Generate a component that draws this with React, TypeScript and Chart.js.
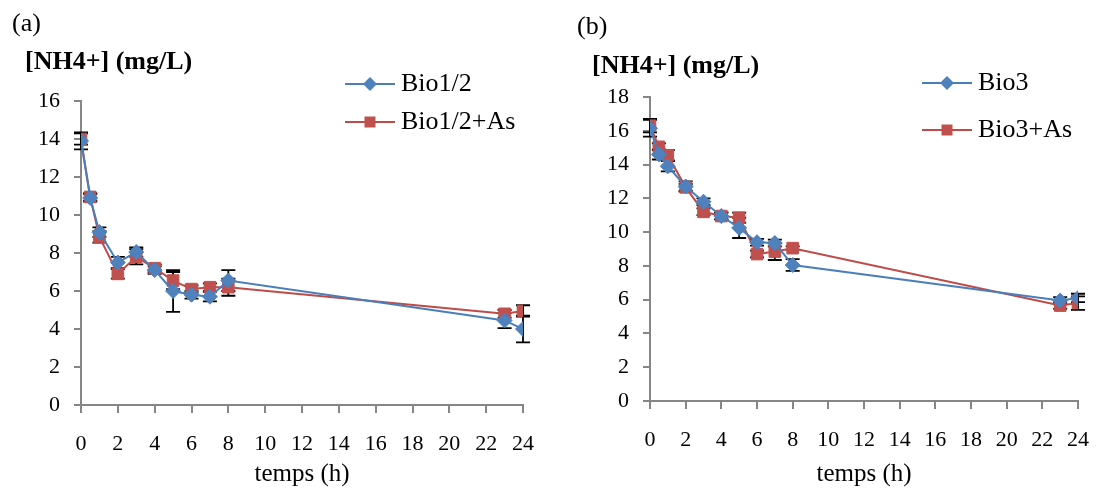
import React, { useEffect, useRef } from "react";
import { Chart, registerables } from "chart.js";

Chart.register(...registerables);

// ---------- DATA ----------
const hoursA = [0, 0.5, 1, 2, 3, 4, 5, 6, 7, 8, 23, 24];
const bioA = [13.9, 10.9, 9.1, 7.5, 8.05, 7.1, 6.0, 5.8, 5.7, 6.55, 4.45, 4.0];
const bioAErr = [0.45, 0.2, 0.25, 0.3, 0.25, 0.2, 1.1, 0.2, 0.25, 0.55, 0.4, 0.7];
const bioAsA = [14.0, 10.95, 8.85, 6.9, 7.8, 7.2, 6.55, 6.1, 6.2, 6.2, 4.8, 4.95];
const bioAsAErr = [0.3, 0.2, 0.3, 0.25, 0.4, 0.2, 0.45, 0.2, 0.2, 0.45, 0.2, 0.3];

const hoursB = [0, 0.5, 1, 2, 3, 4, 5, 6, 7, 8, 23, 24];
const bioB = [16.15, 14.6, 13.9, 12.7, 11.8, 10.95, 10.25, 9.4, 9.35, 8.05, 5.95, 6.1];
const bioBErr = [0.5, 0.3, 0.3, 0.3, 0.2, 0.2, 0.6, 0.2, 0.2, 0.35, 0.2, 0.25];
const bioAsB = [16.3, 15.05, 14.55, 12.65, 11.2, 10.95, 10.85, 8.7, 8.85, 9.05, 5.65, 5.8];
const bioAsBErr = [0.4, 0.2, 0.3, 0.2, 0.2, 0.2, 0.3, 0.2, 0.5, 0.1, 0.2, 0.4];

const xTickStep = 2;
const xMax = 24;
const yMaxA = 16;
const yMaxB = 18;
const yTickStep = 2;

const labelA = "(a)";
const labelB = "(b)";
const yTitle = "[NH4+] (mg/L)";
const xTitle = "temps (h)";
const seriesA = ["Bio1/2", "Bio1/2+As"];
const seriesB = ["Bio3", "Bio3+As"];

// ---------- STYLE ----------
const BLUE = "#4F81BD";
const BLUE_LINE = "#4A7EBB";
const RED = "#C0504D";
const RED_LINE = "#BE4B48";
const AXIS = "#868686";
const FONT = "'Liberation Serif', 'Times New Roman', serif";

type Cfg = {
  hours: number[];
  s1: number[];
  e1: number[];
  s2: number[];
  e2: number[];
  names: string[];
  panel: string;
  yMax: number;
  yAxisWidth: number;
  padRight: number;
  padTop: number;
  xAxisHeight: number;
  panelPos: [number, number];
  titlePos: [number, number];
  legendX: number;
  legendY: [number, number];
};

const errorBarPlugin = {
  id: "errorBars",
  beforeDatasetsDraw(chart: any) {
    const ctx = chart.ctx;
    const xs = chart.scales.x;
    const ys = chart.scales.y;
    ctx.save();
    ctx.strokeStyle = "#000";
    ctx.lineWidth = 1.8;
    chart.data.datasets.forEach((ds: any) => {
      const errs: number[] = ds.errors || [];
      ds.data.forEach((p: any, i: number) => {
        const e = errs[i];
        if (!e) return;
        const x = xs.getPixelForValue(p.x);
        const yt = ys.getPixelForValue(p.y + e);
        const yb = ys.getPixelForValue(p.y - e);
        ctx.beginPath();
        ctx.moveTo(x, yt);
        ctx.lineTo(x, yb);
        ctx.moveTo(x - 7, yt);
        ctx.lineTo(x + 7, yt);
        ctx.moveTo(x - 7, yb);
        ctx.lineTo(x + 7, yb);
        ctx.stroke();
      });
    });
    ctx.restore();
  },
};

function drawMarker(ctx: CanvasRenderingContext2D, style: string, x: number, y: number, color: string) {
  ctx.fillStyle = color;
  ctx.beginPath();
  if (style === "rectRot") {
    const r = 7;
    ctx.moveTo(x, y - r);
    ctx.lineTo(x + r, y);
    ctx.lineTo(x, y + r);
    ctx.lineTo(x - r, y);
    ctx.closePath();
  } else {
    const s = 5.5;
    ctx.rect(x - s, y - s, 2 * s, 2 * s);
  }
  ctx.fill();
}

function makeDecorPlugin(cfg: Cfg) {
  return {
    id: "decor",
    afterDraw(chart: any) {
      const ctx: CanvasRenderingContext2D = chart.ctx;
      ctx.save();
      ctx.fillStyle = "#000";
      ctx.textBaseline = "middle";
      ctx.textAlign = "left";
      ctx.font = `26px ${FONT}`;
      ctx.fillText(cfg.panel, cfg.panelPos[0], cfg.panelPos[1]);
      ctx.font = `bold 26px ${FONT}`;
      ctx.fillText(yTitle, cfg.titlePos[0], cfg.titlePos[1]);
      // legend
      chart.data.datasets.forEach((ds: any, i: number) => {
        const y = cfg.legendY[i];
        const x0 = cfg.legendX;
        ctx.strokeStyle = ds.borderColor;
        ctx.lineWidth = 2;
        ctx.beginPath();
        ctx.moveTo(x0, y);
        ctx.lineTo(x0 + 50, y);
        ctx.stroke();
        drawMarker(ctx, ds.pointStyle, x0 + 25, y, ds.backgroundColor);
        ctx.fillStyle = "#000";
        ctx.font = `26px ${FONT}`;
        ctx.fillText(ds.label, x0 + 56, y);
      });
      ctx.restore();
    },
  };
}

function Panel({ cfg, left, width }: { cfg: Cfg; left: number; width: number }) {
  const ref = useRef<HTMLCanvasElement | null>(null);
  useEffect(() => {
    if (!ref.current) return;
    const pts = (vals: number[]) => cfg.hours.map((h, i) => ({ x: h, y: vals[i] }));
    const chart = new Chart(ref.current, {
      type: "line",
      data: {
        datasets: [
          {
            label: cfg.names[0],
            data: pts(cfg.s1),
            errors: cfg.e1,
            borderColor: BLUE_LINE,
            backgroundColor: BLUE,
            pointBackgroundColor: BLUE,
            pointBorderColor: BLUE,
            pointStyle: "rectRot",
            pointRadius: 7.5,
            pointBorderWidth: 1,
            borderWidth: 2,
            tension: 0,
          } as any,
          {
            label: cfg.names[1],
            data: pts(cfg.s2),
            errors: cfg.e2,
            borderColor: RED_LINE,
            backgroundColor: RED,
            pointBackgroundColor: RED,
            pointBorderColor: RED,
            pointStyle: "rect",
            pointRadius: 8.2,
            pointBorderWidth: 1,
            borderWidth: 2,
            tension: 0,
          } as any,
        ],
      },
      options: {
        responsive: false,
        animation: false,
        layout: { padding: { left: 0, top: cfg.padTop, right: cfg.padRight, bottom: 0 } },
        plugins: {
          legend: { display: false },
          tooltip: { enabled: false },
          title: { display: false },
        },
        scales: {
          x: {
            type: "linear",
            min: 0,
            max: xMax,
            afterFit: (s: any) => {
              s.height = cfg.xAxisHeight;
            },
            ticks: {
              stepSize: xTickStep,
              padding: 18,
              color: "#000",
              font: { family: FONT, size: 22 },
              maxRotation: 0,
              autoSkip: false,
            },
            grid: {
              display: true,
              drawOnChartArea: false,
              drawTicks: true,
              tickLength: 8,
              color: AXIS,
              lineWidth: 2,
            },
            border: { display: true, color: AXIS, width: 2 },
            title: {
              display: true,
              text: xTitle,
              color: "#000",
              font: { family: FONT, size: 25 },
              padding: { top: 0, bottom: 1 },
            },
          },
          y: {
            type: "linear",
            min: 0,
            max: cfg.yMax,
            afterFit: (s: any) => {
              s.width = cfg.yAxisWidth;
            },
            ticks: {
              stepSize: yTickStep,
              padding: 14,
              color: "#000",
              font: { family: FONT, size: 22 },
            },
            grid: {
              display: true,
              drawOnChartArea: false,
              drawTicks: true,
              tickLength: 7,
              color: AXIS,
              lineWidth: 2,
            },
            border: { display: true, color: AXIS, width: 2 },
          },
        },
      } as any,
      plugins: [errorBarPlugin, makeDecorPlugin(cfg)],
    });
    return () => chart.destroy();
  }, [cfg]);
  return (
    <canvas
      ref={ref}
      width={width}
      height={490}
      style={{ position: "absolute", left, top: 0, width, height: 490 }}
    />
  );
}

const cfgA: Cfg = {
  hours: hoursA,
  s1: bioA,
  e1: bioAErr,
  s2: bioAsA,
  e2: bioAsAErr,
  names: seriesA,
  panel: labelA,
  yMax: yMaxA,
  yAxisWidth: 81,
  padRight: 37,
  padTop: 101,
  xAxisHeight: 85,
  panelPos: [12, 24],
  titlePos: [25, 62],
  legendX: 345,
  legendY: [84, 122],
};

const cfgB: Cfg = {
  hours: hoursB,
  s1: bioB,
  e1: bioBErr,
  s2: bioAsB,
  e2: bioAsBErr,
  names: seriesB,
  panel: labelB,
  yMax: yMaxB,
  yAxisWidth: 85,
  padRight: 14,
  padTop: 97,
  xAxisHeight: 89,
  panelPos: [12, 27],
  titlePos: [27, 66],
  legendX: 357,
  legendY: [83, 130],
};

export default function App() {
  return (
    <div
      style={{
        position: "absolute",
        left: 0,
        top: 0,
        width: 1107,
        height: 490,
        background: "#fff",
        overflow: "hidden",
      }}
    >
      <Panel cfg={cfgA} left={0} width={560} />
      <Panel cfg={cfgB} left={565} width={542} />
    </div>
  );
}
